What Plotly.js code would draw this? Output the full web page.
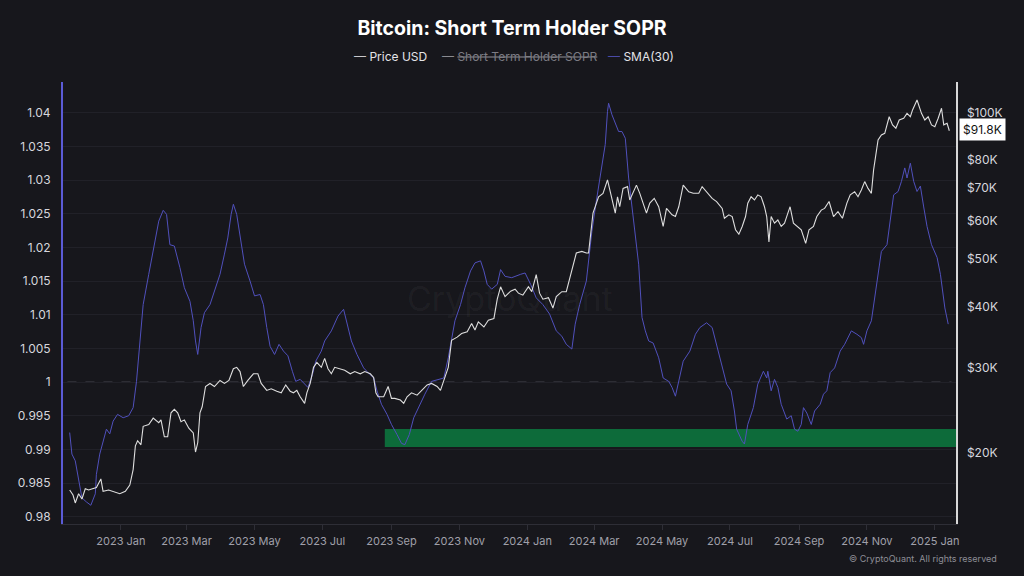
<!DOCTYPE html>
<html>
<head>
<meta charset="utf-8">
<script src="https://cdn.plot.ly/plotly-3.0.1.min.js"></script>
<style>
  html, body { margin: 0; padding: 0; background: #17171c; }
  #chart { width: 1024px; height: 576px; }
</style>
</head>
<body>
<div id="chart"></div>
<script>
// ---- Data ----
const smaDates = [
 '2022-11-16','2022-11-18','2022-11-21','2022-11-24','2022-11-27','2022-12-01','2022-12-05','2022-12-09','2022-12-10','2022-12-13',
 '2022-12-16','2022-12-19','2022-12-22','2022-12-25','2022-12-29','2023-01-03','2023-01-08','2023-01-12','2023-01-15','2023-01-18',
 '2023-01-21','2023-01-26','2023-01-30','2023-02-04','2023-02-08','2023-02-11','2023-02-14','2023-02-18','2023-02-23','2023-02-27',
 '2023-03-04','2023-03-07','2023-03-09','2023-03-11','2023-03-14','2023-03-17','2023-03-22','2023-03-26','2023-03-31','2023-04-04',
 '2023-04-07','2023-04-10','2023-04-12','2023-04-15','2023-04-18','2023-04-22','2023-04-27','2023-05-01','2023-05-06','2023-05-09',
 '2023-05-12','2023-05-15','2023-05-19','2023-05-23','2023-05-27','2023-05-31','2023-06-04','2023-06-07','2023-06-11','2023-06-15',
 '2023-06-18','2023-06-22','2023-06-25','2023-06-30','2023-07-03','2023-07-09','2023-07-15','2023-07-20','2023-07-23','2023-07-27',
 '2023-08-01','2023-08-07','2023-08-11','2023-08-16','2023-08-19','2023-08-23','2023-08-28','2023-09-01','2023-09-06','2023-09-10',
 '2023-09-13','2023-09-17','2023-09-21','2023-09-25','2023-10-01','2023-10-07','2023-10-13','2023-10-18','2023-10-22','2023-10-25',
 '2023-10-28','2023-11-02','2023-11-06','2023-11-11','2023-11-15','2023-11-20','2023-11-23','2023-11-26','2023-11-30','2023-12-05',
 '2023-12-08','2023-12-12','2023-12-18','2023-12-26','2023-12-30','2024-01-04','2024-01-09','2024-01-15','2024-01-21','2024-01-27',
 '2024-02-01','2024-02-05','2024-02-10','2024-02-13','2024-02-17','2024-02-23','2024-02-28','2024-03-03','2024-03-08','2024-03-11',
 '2024-03-13','2024-03-14','2024-03-17','2024-03-20','2024-03-23','2024-03-26','2024-03-29','2024-04-01','2024-04-05','2024-04-10',
 '2024-04-13','2024-04-16','2024-04-19','2024-04-23','2024-04-28','2024-05-02','2024-05-07','2024-05-10','2024-05-13','2024-05-16',
 '2024-05-20','2024-05-26','2024-05-31','2024-06-04','2024-06-10','2024-06-15','2024-06-19','2024-06-24','2024-06-28','2024-07-02',
 '2024-07-05','2024-07-07','2024-07-12','2024-07-14','2024-07-17','2024-07-22','2024-07-26','2024-07-31','2024-08-03','2024-08-04',
 '2024-08-07','2024-08-10','2024-08-13','2024-08-16','2024-08-21','2024-08-25','2024-08-28','2024-08-31','2024-09-03','2024-09-05',
 '2024-09-08','2024-09-12','2024-09-15','2024-09-20','2024-09-23','2024-09-26','2024-09-29','2024-10-03','2024-10-08','2024-10-12',
 '2024-10-15','2024-10-18','2024-10-23','2024-10-27','2024-10-29','2024-11-01','2024-11-05','2024-11-08','2024-11-11','2024-11-14',
 '2024-11-19','2024-11-22','2024-11-25','2024-11-29','2024-12-02','2024-12-05','2024-12-07','2024-12-10','2024-12-13','2024-12-16',
 '2024-12-19','2024-12-22','2024-12-25','2024-12-29','2025-01-03','2025-01-06','2025-01-08','2025-01-10','2025-01-13'
];
const smaValues = [
 0.9925,0.9893,0.9883,0.9853,0.9828,0.9822,0.9817,0.9834,0.9863,0.9893,
 0.9912,0.9930,0.9923,0.9942,0.9952,0.9947,0.9950,0.9962,1.0001,1.0061,
 1.0115,1.0160,1.0194,1.0239,1.0255,1.0249,1.0204,1.0202,1.0170,1.0140,
 1.0120,1.0091,1.0061,1.0041,1.0081,1.0103,1.0115,1.0135,1.0160,1.0190,
 1.0214,1.0249,1.0264,1.0249,1.0219,1.0175,1.0150,1.0128,1.0130,1.0115,
 1.0081,1.0053,1.0041,1.0056,1.0046,1.0039,1.0016,1.0001,1.0004,0.9997,
 0.9992,1.0011,1.0031,1.0046,1.0061,1.0076,1.0098,1.0108,1.0086,1.0061,
 1.0041,1.0021,1.0014,1.0006,0.9987,0.9967,0.9952,0.9937,0.9922,0.9909,
 0.9907,0.9922,0.9947,0.9962,0.9982,1.0001,1.0004,1.0006,1.0036,1.0066,
 1.0091,1.0115,1.0140,1.0165,1.0177,1.0180,1.0165,1.0145,1.0138,1.0145,
 1.0167,1.0157,1.0155,1.0160,1.0162,1.0145,1.0125,1.0115,1.0101,1.0076,
 1.0068,1.0056,1.0049,1.0086,1.0115,1.0150,1.0224,1.0269,1.0318,1.0353,
 1.0402,1.0414,1.0397,1.0384,1.0372,1.0372,1.0362,1.0303,1.0243,1.0175,
 1.0096,1.0076,1.0061,1.0058,1.0036,1.0006,1.0001,0.9992,0.9979,1.0001,
 1.0031,1.0046,1.0071,1.0081,1.0088,1.0081,1.0056,1.0026,0.9997,0.9987,
 0.9957,0.9930,0.9912,0.9908,0.9937,0.9962,0.9997,1.0016,1.0006,1.0016,
 0.9987,1.0004,0.9992,0.9967,0.9945,0.9950,0.9930,0.9927,0.9937,0.9962,
 0.9954,0.9937,0.9957,0.9967,0.9982,0.9987,1.0014,1.0021,1.0046,1.0056,
 1.0066,1.0076,1.0071,1.0066,1.0056,1.0076,1.0091,1.0125,1.0165,1.0194,
 1.0204,1.0243,1.0278,1.0283,1.0298,1.0318,1.0303,1.0325,1.0298,1.0283,
 1.0291,1.0260,1.0231,1.0204,1.0185,1.0160,1.0135,1.0110,1.0086
];

const priceDates = [
 '2022-11-16','2022-11-19','2022-11-21','2022-11-24','2022-11-27','2022-11-30','2022-12-03','2022-12-07','2022-12-10','2022-12-14',
 '2022-12-16','2022-12-21','2022-12-25','2022-12-31','2023-01-05','2023-01-09','2023-01-12','2023-01-14','2023-01-16','2023-01-19',
 '2023-01-21','2023-01-26','2023-01-30','2023-02-04','2023-02-06','2023-02-09','2023-02-12','2023-02-15','2023-02-18','2023-02-21',
 '2023-02-24','2023-02-27','2023-03-03','2023-03-07','2023-03-09','2023-03-11','2023-03-13','2023-03-15','2023-03-18','2023-03-22',
 '2023-03-26','2023-03-31','2023-04-04','2023-04-08','2023-04-12','2023-04-15','2023-04-18','2023-04-21','2023-04-25','2023-04-30',
 '2023-05-04','2023-05-07','2023-05-12','2023-05-16','2023-05-21','2023-05-25','2023-05-29','2023-06-02','2023-06-05','2023-06-08',
 '2023-06-11','2023-06-15','2023-06-17','2023-06-20','2023-06-23','2023-06-26','2023-06-30','2023-07-03','2023-07-06','2023-07-09',
 '2023-07-12','2023-07-17','2023-07-21','2023-07-26','2023-07-30','2023-08-04','2023-08-08','2023-08-13','2023-08-16','2023-08-18',
 '2023-08-20','2023-08-25','2023-08-29','2023-09-01','2023-09-04','2023-09-09','2023-09-12','2023-09-15','2023-09-19','2023-09-24',
 '2023-09-28','2023-10-03','2023-10-07','2023-10-12','2023-10-15','2023-10-19','2023-10-22','2023-10-25','2023-10-30','2023-11-03',
 '2023-11-08','2023-11-12','2023-11-15','2023-11-18','2023-11-23','2023-11-27','2023-12-02','2023-12-05','2023-12-08','2023-12-12',
 '2023-12-17','2023-12-21','2023-12-24','2023-12-28','2024-01-02','2024-01-05','2024-01-09','2024-01-12','2024-01-15','2024-01-20',
 '2024-01-24','2024-01-27','2024-02-01','2024-02-05','2024-02-08','2024-02-11','2024-02-14','2024-02-19','2024-02-23','2024-02-25',
 '2024-02-27','2024-02-29','2024-03-05','2024-03-09','2024-03-13','2024-03-15','2024-03-18','2024-03-20','2024-03-22','2024-03-24',
 '2024-03-27','2024-03-31','2024-04-02','2024-04-05','2024-04-08','2024-04-11','2024-04-14','2024-04-17','2024-04-20','2024-04-24',
 '2024-04-28','2024-05-02','2024-05-05','2024-05-10','2024-05-13','2024-05-16','2024-05-20','2024-05-25','2024-05-29','2024-06-03',
 '2024-06-06','2024-06-10','2024-06-15','2024-06-19','2024-06-24','2024-06-26','2024-06-30','2024-07-03','2024-07-06','2024-07-09',
 '2024-07-12','2024-07-15','2024-07-17','2024-07-20','2024-07-23','2024-07-26','2024-07-29','2024-08-01','2024-08-03','2024-08-05',
 '2024-08-07','2024-08-10','2024-08-13','2024-08-16','2024-08-19','2024-08-22','2024-08-24','2024-08-27','2024-08-31','2024-09-03',
 '2024-09-07','2024-09-10','2024-09-14','2024-09-17','2024-09-21','2024-09-24','2024-09-28','2024-10-02','2024-10-06','2024-10-10',
 '2024-10-14','2024-10-17','2024-10-21','2024-10-24','2024-10-27','2024-10-30','2024-11-02','2024-11-05','2024-11-07','2024-11-11',
 '2024-11-14','2024-11-17','2024-11-21','2024-11-24','2024-11-27','2024-11-30','2024-12-04','2024-12-07','2024-12-10','2024-12-12',
 '2024-12-16','2024-12-20','2024-12-23','2024-12-26','2024-12-29','2025-01-01','2025-01-04','2025-01-07','2025-01-09','2025-01-12',
 '2025-01-14'
];
const priceUSD = [
 16800,16400,15800,16500,16100,16900,16800,16900,17000,17700,
 16700,16800,16700,16500,16700,17200,18500,20700,21200,20800,
 22700,22900,23600,23100,23400,21600,21600,24200,24600,24200,
 23200,23400,22500,22000,20100,21000,24200,24900,27400,27800,
 27400,28200,27800,28200,29800,30000,29400,27400,28200,29100,
 29100,27800,26900,27100,26800,26600,27600,26800,26600,26900,
 26100,25300,26600,27800,30000,30700,30000,31300,29800,29100,
 30000,29800,29600,29100,29400,29100,29400,29100,28600,26600,
 26100,26100,27400,25900,25900,25700,25300,26100,26600,26300,
 26900,27600,27800,27400,26900,28500,30000,34100,34600,35200,
 35500,36900,35800,37200,36300,37500,37800,41400,43900,41900,
 43000,43400,42600,42200,43900,42900,46500,42600,41400,41700,
 39700,41900,42900,42900,45400,48300,51500,51900,51500,51500,
 57500,62200,67200,68300,72800,69400,65200,62200,67200,64100,
 69900,70500,66200,68800,71000,68300,65200,62200,65200,66700,
 64100,58400,63600,61700,61200,64100,71000,68800,68300,68300,
 70500,68800,66700,65700,63600,60700,61700,61200,57500,56300,
 58400,61200,65200,67200,66200,67800,67200,64100,61200,54300,
 61200,59300,60200,58400,59300,62200,64100,59300,58400,57500,
 53900,57500,58400,61200,63100,63600,65700,61200,62600,60700,
 65200,67800,68800,67200,69400,72200,69900,68300,76300,87900,
 90000,90700,98100,94400,92900,96600,97400,99700,98100,101300,
 106200,99700,96600,98100,94400,93600,97400,102100,94400,95100,
 91800
];

const leftTickVals = [0.98,0.985,0.99,0.995,1,1.005,1.01,1.015,1.02,1.025,1.03,1.035,1.04];
const leftTickText = ['0.98','0.985','0.99','0.995','1','1.005','1.01','1.015','1.02','1.025','1.03','1.035','1.04'];
const rightTickVals = [20000,30000,40000,50000,60000,70000,80000,100000];
const rightTickText = ['$20K','$30K','$40K','$50K','$60K','$70K','$80K','$100K'];
const zoneStart = '2023-08-26';
const zoneEnd = '2025-01-20';
const zoneLow = 0.99035;
const zoneHigh = 0.99302;
const lastPriceText = '$91.8K';

// ---- Chart ----
const FONT = 'Inter, "Open Sans", Roboto, sans-serif';
const traces = [
  {
    x: smaDates, y: smaValues, type: 'scatter', mode: 'lines', name: 'SMA(30)',
    yaxis: 'y', line: { color: '#5050bc', width: 1 }, hoverinfo: 'skip'
  },
  {
    x: priceDates, y: priceUSD, type: 'scatter', mode: 'lines', name: 'Price USD',
    yaxis: 'y2', line: { color: '#dedede', width: 1.1 }, hoverinfo: 'skip'
  }
];

const layout = {
  width: 1024, height: 576,
  paper_bgcolor: '#17171c', plot_bgcolor: '#17171c',
  margin: { l: 63, r: 68, t: 82, b: 52, pad: 0 },
  showlegend: false,
  font: { family: FONT, color: '#d6d6dc', size: 12 },
  title: {
    text: '<b>Bitcoin: Short Term Holder SOPR</b>',
    x: 0.5, xanchor: 'center', y: 1 - 28 / 576, yanchor: 'middle',
    font: { family: FONT, size: 19.5, color: '#ffffff' }
  },
  xaxis: {
    type: 'date', range: ['2022-11-10', '2025-01-20'],
    tick0: '2023-01-01', dtick: 'M2', tickformat: '%Y %b',
    showgrid: false, zeroline: false,
    showline: true, linecolor: '#2e2e36', linewidth: 1,
    ticks: 'outside', ticklen: 5, tickcolor: '#2e2e36',
    ticklabelstandoff: 2,
    tickfont: { family: FONT, size: 11, color: '#a0a0aa' }
  },
  yaxis: {
    range: [0.97892, 1.04456],
    tickmode: 'array', tickvals: leftTickVals, ticktext: leftTickText,
    showgrid: true, gridcolor: '#212128', gridwidth: 1, zeroline: false,
    showline: true, linecolor: '#5b5bd6', linewidth: 2,
    ticks: '', ticklabelstandoff: 8,
    tickfont: { family: FONT, size: 12, color: '#d6d6dc' }
  },
  yaxis2: {
    type: 'log', overlaying: 'y', side: 'right',
    range: [4.15544, 5.0630],
    tickmode: 'array', tickvals: rightTickVals, ticktext: rightTickText,
    showgrid: false, zeroline: false,
    showline: true, linecolor: '#d8d8d8', linewidth: 1.5,
    ticks: '', ticklabelstandoff: 7,
    tickfont: { family: FONT, size: 12, color: '#d6d6dc' }
  },
  shapes: [
    {
      type: 'rect', xref: 'x', yref: 'y', layer: 'below',
      x0: zoneStart, x1: zoneEnd, y0: zoneLow, y1: zoneHigh,
      fillcolor: '#0d6b3a', line: { width: 0 }
    },
    {
      type: 'line', xref: 'paper', yref: 'y', layer: 'below',
      x0: 0.005, x1: 0.995, y0: 1, y1: 1,
      line: { color: '#4a4a52', width: 1, dash: 'dash' }
    }
  ],
  annotations: [
    {
      text: 'CryptoQuant', xref: 'paper', yref: 'paper', x: 0.5006, y: 0.5113,
      xanchor: 'center', yanchor: 'middle', showarrow: false,
      font: { family: FONT, size: 34, color: 'rgba(255,255,255,0.045)' }
    },
    {
      text: '<span style="color:#c8c8cc">—</span> Price USD',
      xref: 'paper', yref: 'paper', x: (352 - 63) / 893, y: 1 + (82 - 57) / 442,
      xanchor: 'left', yanchor: 'middle', showarrow: false,
      font: { family: FONT, size: 12, color: '#e4e4e8' }
    },
    {
      text: '<span style="color:#8a8a90">—</span> <s>Short Term Holder SOPR</s>',
      xref: 'paper', yref: 'paper', x: (440 - 63) / 893, y: 1 + (82 - 57) / 442,
      xanchor: 'left', yanchor: 'middle', showarrow: false,
      font: { family: FONT, size: 12, color: '#7c7c84' }
    },
    {
      text: '<span style="color:#4a4aa8">—</span> SMA(30)',
      xref: 'paper', yref: 'paper', x: (606 - 63) / 893, y: 1 + (82 - 57) / 442,
      xanchor: 'left', yanchor: 'middle', showarrow: false,
      font: { family: FONT, size: 12, color: '#e4e4e8' }
    },
    {
      text: '© CryptoQuant. All rights reserved',
      xref: 'paper', yref: 'paper', x: (999 - 63) / 893, y: (524 - 558.7) / 442,
      xanchor: 'right', yanchor: 'middle', showarrow: false,
      font: { family: FONT, size: 9, color: '#8e8e96' }
    },
    {
      text: lastPriceText,
      xref: 'paper', yref: 'y2', x: 1, y: Math.log10(priceUSD[priceUSD.length - 1]),
      xanchor: 'left', yanchor: 'middle', xshift: 3, yshift: 1, showarrow: false,
      bgcolor: '#ffffff', borderpad: 3,
      font: { family: FONT, size: 12, color: '#111111' }
    }
  ]
};

Plotly.newPlot('chart', traces, layout, { displayModeBar: false, staticPlot: true });
</script>
</body>
</html>
